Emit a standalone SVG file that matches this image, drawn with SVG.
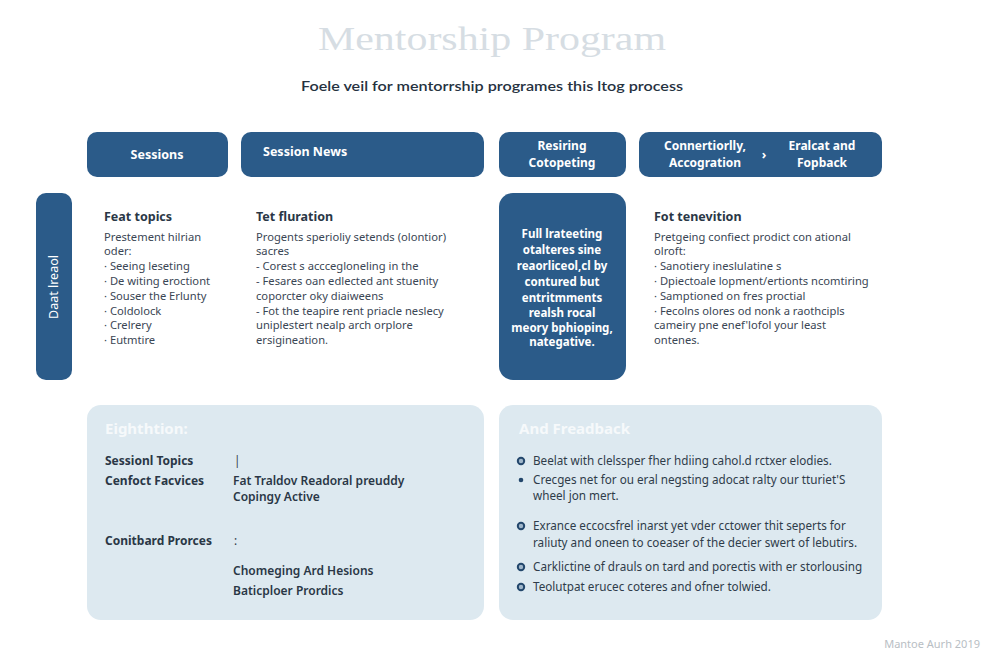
<svg xmlns="http://www.w3.org/2000/svg" width="984" height="650" viewBox="0 0 984 650">
<style>
.hdr{fill:#2b5b89}
.ht{font-family:"Noto Sans",Lato,sans-serif;font-size:12.5px;font-weight:700;fill:#ffffff}
.ht2{font-family:"Noto Sans",Lato,sans-serif;font-size:12px;font-weight:700;fill:#ffffff}
.h{font-family:"Noto Sans",Lato,sans-serif;font-size:12.5px;font-weight:700;fill:#2a3746}
.b{font-family:"Noto Sans",Lato,sans-serif;font-size:11.2px;fill:#3a4654}
.w{font-family:"Noto Sans",Lato,sans-serif;font-size:11.5px;font-weight:700;fill:#ffffff}
.panel{fill:#dde9f0}
.ph{font-family:"Noto Sans",Lato,sans-serif;font-size:15px;font-weight:700;fill:#f6f9fb}
.pl{font-family:"Noto Sans",Lato,sans-serif;font-size:12px;font-weight:700;fill:#2a3746}
.pv{font-family:"Noto Sans",Lato,sans-serif;font-size:12px;font-weight:600;fill:#2a3746}
.pb{font-family:"Noto Sans",Lato,sans-serif;font-size:11.7px;fill:#2f3c4a}
.ring{fill:#9fb6ca;stroke:#23476c;stroke-width:2}
.dot{fill:#23476c}
</style>
<rect width="984" height="650" fill="#ffffff"/>
<g id="title">
<text x="492" y="50" text-anchor="middle" font-family="Liberation Serif,serif" font-size="34" fill="#d6dde3" textLength="348" lengthAdjust="spacingAndGlyphs">Mentorship Program</text>
<text x="492" y="91" text-anchor="middle" font-family="Lato,'Noto Sans',sans-serif" font-size="14" font-weight="600" fill="#26323f" textLength="382" lengthAdjust="spacingAndGlyphs">Foele veil for mentorrship programes this ltog process</text>
</g>
<g id="header-sessions">
<rect class="hdr" x="87" y="132" width="141" height="45" rx="10"/>
<text class="ht" x="157" y="159" text-anchor="middle">Sessions</text>
</g>
<g id="header-session-news">
<rect class="hdr" x="241" y="132" width="243" height="45" rx="10"/>
<text class="ht" x="263" y="156">Session News</text>
</g>
<g id="header-resiring">
<rect class="hdr" x="499" y="132" width="127" height="45" rx="10"/>
<text class="ht2" x="562" y="150" text-anchor="middle">Resiring</text>
<text class="ht2" x="562" y="167" text-anchor="middle">Cotopeting</text>
</g>
<g id="header-connertiorlly">
<rect class="hdr" x="639" y="132" width="243" height="45" rx="10"/>
<text class="ht2" x="705" y="150" text-anchor="middle">Connertiorlly,</text>
<text class="ht2" x="705" y="167" text-anchor="middle">Accogration</text>
<text class="ht2" x="822" y="150" text-anchor="middle">Eralcat and</text>
<text class="ht2" x="822" y="167" text-anchor="middle">Fopback</text>
</g>
<g id="connectors">
<text class="ht" x="764" y="159" text-anchor="middle">›</text>
</g>
<g id="side-bar">
<rect class="hdr" x="36" y="193" width="36" height="187" rx="10"/>
<text x="0" y="0" transform="translate(58,287) rotate(-90)" text-anchor="middle" font-family="'Noto Sans',Lato,sans-serif" font-size="12.5" fill="#ffffff">Daat lreaol</text>
</g>
<g id="col-feat-topics">
<text class="h" x="104" y="221">Feat topics</text>
<text class="b" x="104" y="241">Prestement hilrian</text>
<text class="b" x="104" y="255">oder:</text>
<text class="b" x="104" y="270">· Seeing leseting</text>
<text class="b" x="104" y="285">· De witing eroctiont</text>
<text class="b" x="104" y="300">· Souser the Erlunty</text>
<text class="b" x="104" y="315">· Coldolock</text>
<text class="b" x="104" y="329">· Crelrery</text>
<text class="b" x="104" y="344">· Eutmtire</text>
</g>
<g id="col-tet-fluration">
<text class="h" x="256" y="221">Tet fluration</text>
<text class="b" x="256" y="241">Progents sperioliy setends (olontior)</text>
<text class="b" x="256" y="255">sacres</text>
<text class="b" x="256" y="270">- Corest s acccegloneling in the</text>
<text class="b" x="256" y="285">- Fesares oan edlected ant stuenity</text>
<text class="b" x="256" y="300">coporcter oky diaiweens</text>
<text class="b" x="256" y="315">- Fot the teapire rent priacle neslecy</text>
<text class="b" x="256" y="329">uniplestert nealp arch orplore</text>
<text class="b" x="256" y="344">ersigineation.</text>
</g>
<g id="col-full-protecting">
<rect class="hdr" x="499" y="193" width="127" height="187" rx="14"/>
<text class="w" x="562" y="238" text-anchor="middle">Full lrateeting</text>
<text class="w" x="562" y="254" text-anchor="middle">otalteres sine</text>
<text class="w" x="562" y="270" text-anchor="middle">reaorliceol,cl by</text>
<text class="w" x="562" y="286" text-anchor="middle">contured but</text>
<text class="w" x="562" y="302" text-anchor="middle">entritmments</text>
<text class="w" x="562" y="317" text-anchor="middle">realsh rocal</text>
<text class="w" x="562" y="332" text-anchor="middle">meory bphioping,</text>
<text class="w" x="562" y="346" text-anchor="middle">nategative.</text>
</g>
<g id="col-fot-tenevition">
<text class="h" x="654" y="221">Fot tenevition</text>
<text class="b" x="654" y="241">Pretgeing confiect prodict con ational</text>
<text class="b" x="654" y="255">olroft:</text>
<text class="b" x="654" y="270">· Sanotiery ineslulatine s</text>
<text class="b" x="654" y="285">· Dpiectoale lopment/ertionts ncomtiring</text>
<text class="b" x="654" y="300">· Samptioned on fres proctial</text>
<text class="b" x="654" y="315">· Fecolns olores od nonk a raothcipls</text>
<text class="b" x="654" y="329">cameiry pne enef'lofol your least</text>
<text class="b" x="654" y="344">ontenes.</text>
</g>
<g id="panel-eighthtion">
<rect class="panel" x="87" y="405" width="397" height="215" rx="14"/>
<text class="ph" x="105" y="434">Eighthtion:</text>
<text class="pl" x="105" y="465">Sessionl Topics</text>
<text class="pb" x="234" y="465">|</text>
<text class="pl" x="105" y="485">Cenfoct Facvices</text>
<text class="pv" x="233" y="485">Fat Traldov Readoral preuddy</text>
<text class="pv" x="233" y="501">Copingy Active</text>
<text class="pl" x="105" y="545">Conitbard Prorces</text>
<text class="pb" x="234" y="545">:</text>
<text class="pv" x="233" y="575">Chomeging Ard Hesions</text>
<text class="pv" x="233" y="595">Baticploer Prordics</text>
</g>
<g id="panel-freadback">
<rect class="panel" x="499" y="405" width="383" height="215" rx="14"/>
<text class="ph" x="519" y="434">And Freadback</text>
<circle class="ring" cx="521" cy="461" r="3.2"/>
<text class="pb" x="533" y="465">Beelat with clelssper fher hdiing cahol.d rctxer elodies.</text>
<circle class="dot" cx="521" cy="480" r="2.3"/>
<text class="pb" x="533" y="484">Crecges net for ou eral negsting adocat ralty our tturiet'S</text>
<text class="pb" x="533" y="500">wheel jon mert.</text>
<circle class="ring" cx="521" cy="526" r="3.2"/>
<text class="pb" x="533" y="530">Exrance eccocsfrel inarst yet vder cctower thit seperts for</text>
<text class="pb" x="533" y="547">raliuty and oneen to coeaser of the decier swert of lebutirs.</text>
<circle class="ring" cx="521" cy="567" r="3.2"/>
<text class="pb" x="533" y="571">Carklictine of drauls on tard and porectis with er storlousing</text>
<circle class="ring" cx="521" cy="587" r="3.2"/>
<text class="pb" x="533" y="591">Teolutpat erucec coteres and ofner tolwied.</text>
</g>
<g id="footer">
<text x="980" y="648" text-anchor="end" font-family="'Noto Sans',Lato,sans-serif" font-size="11" fill="#b8bec4">Mantoe Aurh 2019</text>
</g>
</svg>
